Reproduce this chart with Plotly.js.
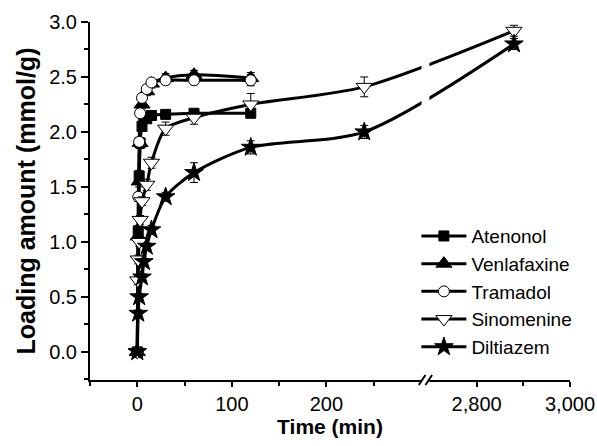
<!DOCTYPE html>
<html>
<head>
<meta charset="utf-8">
<script src="https://cdn.plot.ly/plotly-3.0.1.min.js"></script>
<style>html,body{margin:0;padding:0;background:#fff;}#chart{width:597px;height:446px;}</style>
</head>
<body>
<div id="chart"></div>
<script>
// ---- data (time in min, loading amount in mmol/g) ----
const seriesNames = ['Atenonol', 'Venlafaxine', 'Tramadol', 'Sinomenine', 'Diltiazem'];

const atenTime = [0, 1, 2, 3, 5, 10, 15, 30, 60, 120];
const atenVal  = [0, 1.1, 1.6, 1.9, 2.05, 2.12, 2.15, 2.16, 2.17, 2.17];
const atenErr  = [0.02, 0.05, 0.05, 0.04, 0.04, 0.03, 0.03, 0.03, 0.03, 0.04];

const venlTime = [0, 1, 2, 3, 5, 10, 15, 30, 60, 120];
const venlVal  = [0, 1.05, 1.55, 1.9, 2.25, 2.37, 2.44, 2.49, 2.52, 2.49];
const venlErr  = [0.02, 0.05, 0.05, 0.05, 0.04, 0.04, 0.04, 0.04, 0.04, 0.05];

const tramTime = [0, 1, 2, 3, 5, 10, 15, 30, 60, 120];
const tramVal  = [0, 1.41, 1.91, 2.17, 2.31, 2.39, 2.45, 2.47, 2.47, 2.47];
const tramErr  = [0.02, 0.04, 0.04, 0.03, 0.03, 0.03, 0.03, 0.04, 0.04, 0.05];

const sinoTime = [0, 0.5, 1, 2, 3, 5, 10, 15, 30, 60, 120, 240, 2880];
const sinoVal  = [0, 0.65, 0.84, 1.0, 1.2, 1.37, 1.52, 1.72, 2.03, 2.13, 2.25, 2.41, 2.92];
const sinoErr  = [0.02, 0.04, 0.04, 0.04, 0.04, 0.04, 0.05, 0.05, 0.06, 0.06, 0.1, 0.09, 0.05];

const diltTime = [0, 1, 2, 5, 7, 10, 15, 30, 60, 120, 240, 2880];
const diltVal  = [0, 0.35, 0.5, 0.68, 0.82, 0.96, 1.11, 1.41, 1.63, 1.86, 2.0, 2.8];
const diltErr  = [0.02, 0.03, 0.03, 0.03, 0.03, 0.03, 0.04, 0.04, 0.09, 0.06, 0.06, 0.05];

const xTickVals   = [0, 100, 200, 2800, 3000];
const xTickText   = ['0', '100', '200', '2,800', '3,000'];
const xMinorVals  = [-50, 50, 150, 250, 2900];

// ---- broken x axis: [-50, 300] // [2700, 3000] ----
const LEFT_MIN = -50, LEFT_MAX = 300, RIGHT_MIN = 2700, RIGHT_MAX = 3000;
const GAP = 9.5, RIGHT_SCALE = 0.4937;
function brk(t) {
  return t <= LEFT_MAX ? t : LEFT_MAX + GAP + (t - RIGHT_MIN) * RIGHT_SCALE;
}
const X_END = brk(RIGHT_MAX);

const styles = [
  {symbol: 'square', size: 10, color: '#000'},
  {symbol: 'triangle-up', size: 14, color: '#000'},
  {symbol: 'circle', size: 11, color: '#fff'},
  {symbol: 'triangle-down', size: 14, color: '#fff'},
  {symbol: 'star', size: 14, color: '#000'}
];
const sets = [
  [atenTime, atenVal, atenErr],
  [venlTime, venlVal, venlErr],
  [tramTime, tramVal, tramErr],
  [sinoTime, sinoVal, sinoErr],
  [diltTime, diltVal, diltErr]
];

const traces = sets.map((s, i) => ({
  type: 'scatter',
  mode: 'lines+markers',
  name: seriesNames[i],
  x: s[0].map(brk),
  y: s[1],
  error_y: {type: 'data', array: s[2], visible: true, color: '#000', thickness: 1, width: 4},
  line: {color: '#000', width: 3, shape: 'spline', smoothing: 0.8},
  marker: {symbol: styles[i].symbol, size: styles[i].size, color: styles[i].color,
           line: {color: '#000', width: 1}},
  cliponaxis: false
}));

const FONT = 'Liberation Sans, Arial, sans-serif';
const bx = LEFT_MAX + GAP / 2;

const layout = {
  width: 597, height: 446,
  margin: {l: 90, r: 27, t: 22, b: 66},
  paper_bgcolor: '#fff', plot_bgcolor: '#fff',
  font: {family: FONT, size: 20, color: '#000'},
  showlegend: true,
  legend: {x: 0.68, y: 0.455, xanchor: 'left', yanchor: 'top', bgcolor: 'rgba(0,0,0,0)',
           font: {family: FONT, size: 19, color: '#000'}, itemwidth: 45, tracegroupgap: 0},
  xaxis: {
    range: [LEFT_MIN, X_END], showgrid: false, zeroline: false,
    showline: true, linecolor: '#000', linewidth: 2,
    ticks: 'outside', ticklen: 5, tickwidth: 2, tickcolor: '#000',
    tickmode: 'array', tickvals: xTickVals.map(brk), ticktext: xTickText,
    minor: {tickmode: 'array', tickvals: xMinorVals.map(brk), ticks: 'outside', ticklen: 4, tickwidth: 2, tickcolor: '#000'},
    tickfont: {family: FONT, size: 20},
    title: {text: '<b>Time (min)</b>', font: {family: FONT, size: 21}, standoff: 4}
  },
  yaxis: {
    range: [-0.256, 3.0], showgrid: false, zeroline: false,
    showline: true, linecolor: '#000', linewidth: 2,
    ticks: 'outside', ticklen: 7, tickwidth: 2, tickcolor: '#000',
    tick0: 0, dtick: 0.5, tickformat: '.1f',
    minor: {dtick: 0.25, tick0: 0, ticks: 'outside', ticklen: 4, tickwidth: 2, tickcolor: '#000'},
    tickfont: {family: FONT, size: 20},
    title: {text: '<b>Loading amount (mmol/g)</b>', font: {family: FONT, size: 25}, standoff: 6}
  },
  shapes: [
    {type: 'rect', layer: 'above', xref: 'x', yref: 'paper', x0: LEFT_MAX + 0.6, x1: LEFT_MAX + GAP - 0.6,
     y0: -0.012, y1: 1.02, fillcolor: '#fff', line: {width: 0}},
    {type: 'line', layer: 'above', xref: 'x', yref: 'paper', x0: bx - 7, x1: bx, y0: -0.014, y1: 0.014,
     line: {color: '#000', width: 2}},
    {type: 'line', layer: 'above', xref: 'x', yref: 'paper', x0: bx, x1: bx + 7, y0: -0.014, y1: 0.014,
     line: {color: '#000', width: 2}}
  ]
};

Plotly.newPlot('chart', traces, layout, {displayModeBar: false, staticPlot: true});
</script>
</body>
</html>
